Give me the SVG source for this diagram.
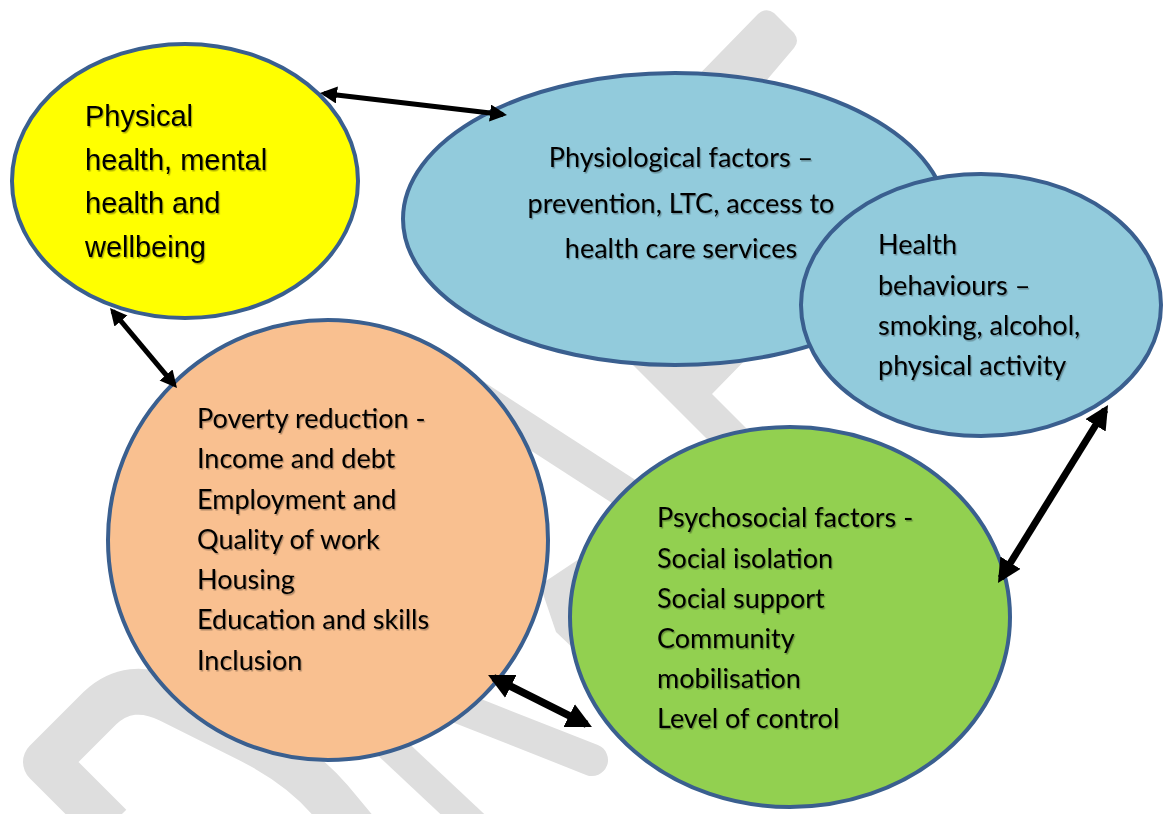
<svg xmlns="http://www.w3.org/2000/svg" width="1164" height="814" viewBox="0 0 1164 814">
<defs>
<style>
.wm{fill:#dedede;stroke:none}
.wml{fill:none;stroke:#dedede}
.node{stroke:#3a5f8f;stroke-width:4}
.t{font-family:Lato,"Liberation Sans",sans-serif;font-size:27px;fill:#000}
.ta{font-family:"Liberation Sans",Arial,sans-serif;font-size:29px;fill:#000}
.conn{stroke:#000;fill:none}
</style>
<filter id="sh" x="-5%" y="-20%" width="110%" height="140%">
<feDropShadow dx="1.2" dy="1.5" stdDeviation="0.7" flood-color="#000" flood-opacity="0.3"/>
</filter>
<marker id="ah" markerWidth="4" markerHeight="4" refX="2.6" refY="1.7" orient="auto-start-reverse" markerUnits="strokeWidth">
<path d="M0,0 L3.4,1.7 L0,3.4 Z" fill="#000"/>
</marker>
</defs>
<rect width="1164" height="814" fill="#fff"/>
<g id="watermark">
<path class="wml" stroke-width="46" stroke-linejoin="round" d="M110,826 L46,762 L100,708 Q130,680 170,700 L250,740 Q300,765 330,800 L355,830"/>
<line class="wml" stroke-width="30" x1="330" y1="690" x2="490" y2="840"/>
<line class="wml" stroke-width="32" stroke-linecap="round" x1="440" y1="700" x2="592" y2="760"/>
<line class="wml" stroke-width="32" x1="470" y1="392" x2="660" y2="515"/>
<polygon class="wm" points="540,585 585,555 620,600 575,650 556,632"/>
<polygon class="wm" points="618,350 755,350 712,394 770,452 738,470"/>
<path class="wm" d="M680,94 L758,14 Q766,7 774,13 L794,33 Q800,41 794,48 L750,100 Z"/>
</g>
<g id="node-physical">
<ellipse class="node" cx="185" cy="181" rx="173" ry="137" fill="#ffff00"/>
<g class="ta" filter="url(#sh)">
<text x="85" y="126">Physical</text>
<text x="85" y="170">health, mental</text>
<text x="85" y="213">health and</text>
<text x="85" y="257">wellbeing</text>
</g>
</g>
<g id="node-physiological">
<ellipse class="node" cx="675" cy="219" rx="272" ry="146" fill="#92cbdc"/>
<g class="t" filter="url(#sh)" text-anchor="middle">
<text x="681" y="167">Physiological factors –</text>
<text x="681" y="213">prevention, LTC, access to</text>
<text x="681" y="258">health care services</text>
</g>
</g>
<g id="node-behaviours">
<ellipse class="node" cx="981" cy="305" rx="180" ry="131" fill="#92cbdc"/>
<g class="t" filter="url(#sh)">
<text x="878" y="254">Health</text>
<text x="878" y="294.5">behaviours –</text>
<text x="878" y="335">smoking, alcohol,</text>
<text x="878" y="375">physical activity</text>
</g>
</g>
<g id="node-poverty">
<ellipse class="node" cx="328" cy="540" rx="220" ry="220" fill="#f9c090"/>
<g class="t" filter="url(#sh)">
<text x="197" y="428">Poverty reduction -</text>
<text x="197" y="468">Income and debt</text>
<text x="197" y="509">Employment and</text>
<text x="197" y="549">Quality of work</text>
<text x="197" y="589">Housing</text>
<text x="197" y="629">Education and skills</text>
<text x="197" y="670">Inclusion</text>
</g>
</g>
<g id="node-psychosocial">
<ellipse class="node" cx="790" cy="617" rx="220" ry="190" fill="#92d050"/>
<g class="t" filter="url(#sh)">
<text x="657" y="527">Psychosocial factors -</text>
<text x="657" y="567.5">Social isolation</text>
<text x="657" y="607.5">Social support</text>
<text x="657" y="647.5">Community</text>
<text x="657" y="688">mobilisation</text>
<text x="657" y="728">Level of control</text>
</g>
</g>
<g id="connectors">
<line class="conn" stroke-width="5" x1="324" y1="93.5" x2="503" y2="114.5" marker-start="url(#ah)" marker-end="url(#ah)"/>
<line class="conn" stroke-width="5" x1="112.6" y1="311.1" x2="174.4" y2="384.9" marker-start="url(#ah)" marker-end="url(#ah)"/>
<line class="conn" stroke-width="7.5" x1="493.4" y1="677.7" x2="586.6" y2="724.3" marker-start="url(#ah)" marker-end="url(#ah)"/>
<line class="conn" stroke-width="7" x1="1105.1" y1="409.8" x2="1000.9" y2="578.2" marker-start="url(#ah)" marker-end="url(#ah)"/>
</g>
</svg>
